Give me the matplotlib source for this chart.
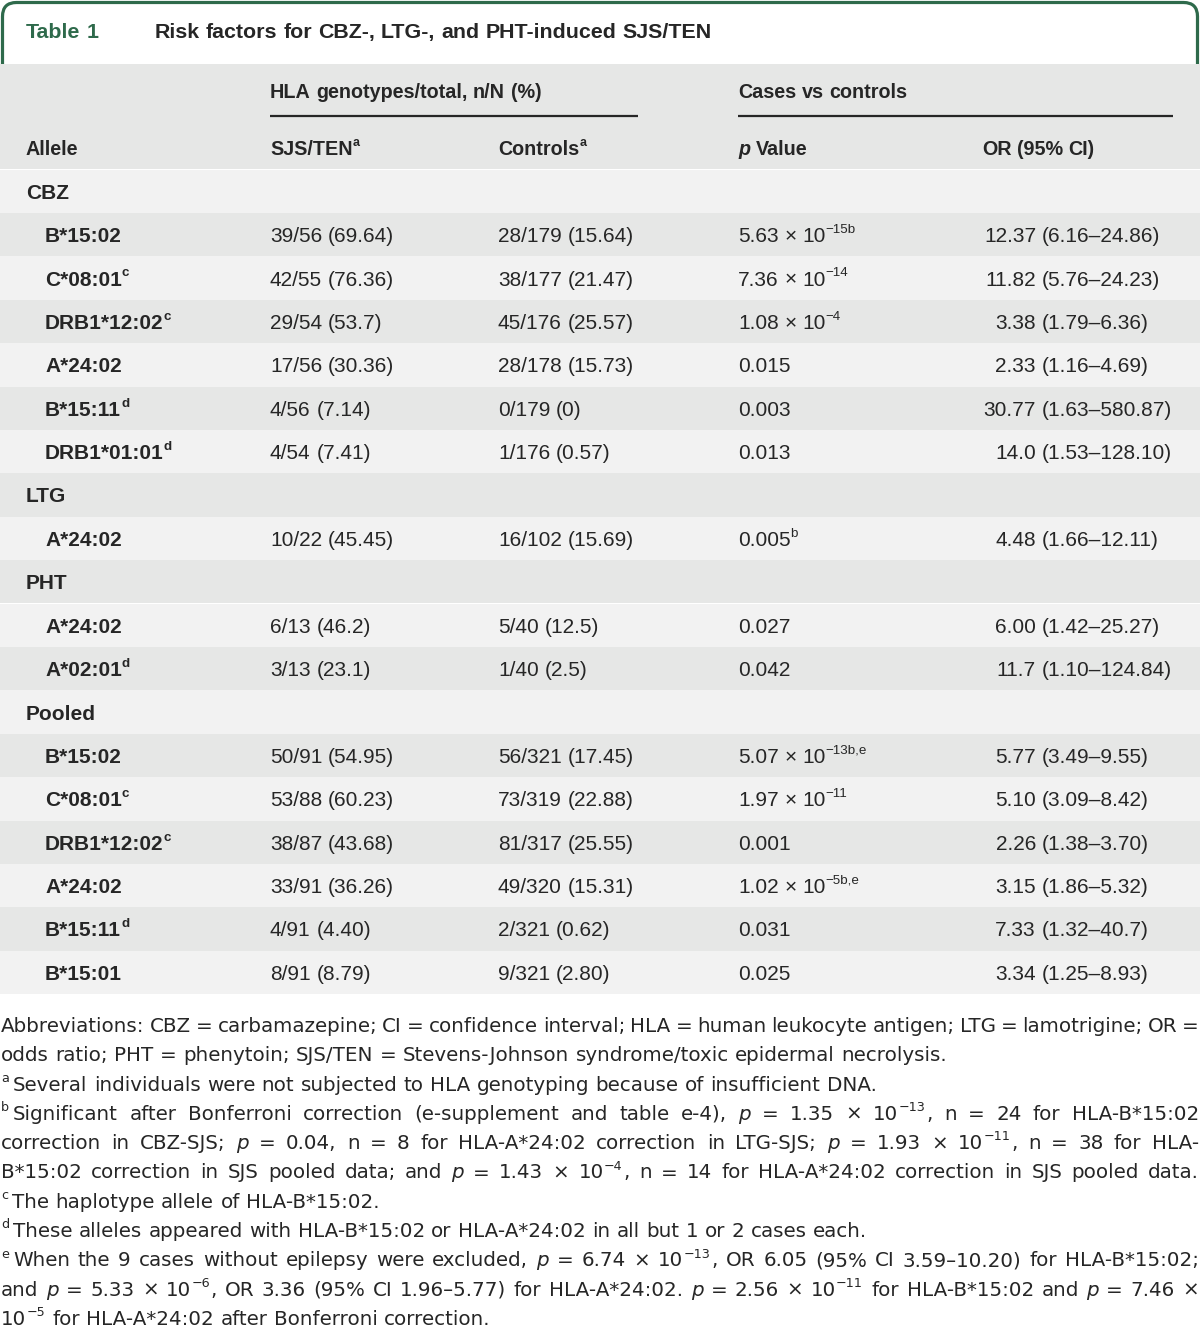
import re
import matplotlib
matplotlib.use("Agg")
import matplotlib.pyplot as plt
from matplotlib.patches import Rectangle, FancyBboxPatch

FONT = "Liberation Sans"
NOTE_FONT = "DejaVu Sans"
INK = "#262626"
GREEN = "#2e6a4b"
DARK = "#e6e7e6"
LIGHT = "#f2f2f2"

# ---- table data ----
labels = ["CBZ", "B*15:02", "C*08:01{s:c}", "DRB1*12:02{s:c}", "A*24:02",
          "B*15:11{s:d}", "DRB1*01:01{s:d}",
          "LTG", "A*24:02",
          "PHT", "A*24:02", "A*02:01{s:d}",
          "Pooled", "B*15:02", "C*08:01{s:c}", "DRB1*12:02{s:c}", "A*24:02",
          "B*15:11{s:d}", "B*15:01"]
sections = ["CBZ", "LTG", "PHT", "Pooled"]
sjs_ten = ["", "39/56 (69.64)", "42/55 (76.36)", "29/54 (53.7)", "17/56 (30.36)",
           "4/56 (7.14)", "4/54 (7.41)",
           "", "10/22 (45.45)",
           "", "6/13 (46.2)", "3/13 (23.1)",
           "", "50/91 (54.95)", "53/88 (60.23)", "38/87 (43.68)", "33/91 (36.26)",
           "4/91 (4.40)", "8/91 (8.79)"]
controls = ["", "28/179 (15.64)", "38/177 (21.47)", "45/176 (25.57)", "28/178 (15.73)",
            "0/179 (0)", "1/176 (0.57)",
            "", "16/102 (15.69)",
            "", "5/40 (12.5)", "1/40 (2.5)",
            "", "56/321 (17.45)", "73/319 (22.88)", "81/317 (25.55)", "49/320 (15.31)",
            "2/321 (0.62)", "9/321 (2.80)"]
p_values = ["", "5.63 × 10{s:−15b}", "7.36 × 10{s:−14}", "1.08 × 10{s:−4}", "0.015",
            "0.003", "0.013",
            "", "0.005{s:b}",
            "", "0.027", "0.042",
            "", "5.07 × 10{s:−13b,e}", "1.97 × 10{s:−11}", "0.001", "1.02 × 10{s:−5b,e}",
            "0.031", "0.025"]
or_est = ["", "12.37", "11.82", "3.38", "2.33", "30.77", "14.0",
          "", "4.48",
          "", "6.00", "11.7",
          "", "5.77", "5.10", "2.26", "3.15", "7.33", "3.34"]
or_ci = ["", "(6.16–24.86)", "(5.76–24.23)", "(1.79–6.36)", "(1.16–4.69)",
         "(1.63–580.87)", "(1.53–128.10)",
         "", "(1.66–12.11)",
         "", "(1.42–25.27)", "(1.10–124.84)",
         "", "(3.49–9.55)", "(3.09–8.42)", "(1.38–3.70)", "(1.86–5.32)",
         "(1.32–40.7)", "(1.25–8.93)"]

title_num = "Table 1"
title = "Risk factors for CBZ-, LTG-, and PHT-induced SJS/TEN"
group_heads = ["HLA genotypes/total, n/N (%)", "Cases vs controls"]
col_heads = ["Allele", "SJS/TEN{s:a}", "Controls{s:a}", "{i:p} Value", "OR (95% CI)"]

# footnote lines: (text, justified)
notes = [
    ("Abbreviations: CBZ = carbamazepine; CI = confidence interval; HLA = human leukocyte antigen; LTG = lamotrigine; OR =", True),
    ("odds ratio; PHT = phenytoin; SJS/TEN = Stevens-Johnson syndrome/toxic epidermal necrolysis.", False),
    ("{m:a}Several individuals were not subjected to HLA genotyping because of insufficient DNA.", False),
    ("{m:b}Significant after Bonferroni correction (e-supplement and table e-4), {i:p} = 1.35 × 10{s:−13}, n = 24 for HLA-B*15:02", True),
    ("correction in CBZ-SJS; {i:p} = 0.04, n = 8 for HLA-A*24:02 correction in LTG-SJS; {i:p} = 1.93 × 10{s:−11}, n = 38 for HLA-", True),
    ("B*15:02 correction in SJS pooled data; and {i:p} = 1.43 × 10{s:−4}, n = 14 for HLA-A*24:02 correction in SJS pooled data.", True),
    ("{m:c}The haplotype allele of HLA-B*15:02.", False),
    ("{m:d}These alleles appeared with HLA-B*15:02 or HLA-A*24:02 in all but 1 or 2 cases each.", False),
    ("{m:e}When the 9 cases without epilepsy were excluded, {i:p} = 6.74 × 10{s:−13}, OR 6.05 (95% CI 3.59–10.20) for HLA-B*15:02;", True),
    ("and {i:p} = 5.33 × 10{s:−6}, OR 3.36 (95% CI 1.96–5.77) for HLA-A*24:02. {i:p} = 2.56 × 10{s:−11} for HLA-B*15:02 and {i:p} = 7.46 ×", True),
    ("10{s:−5} for HLA-A*24:02 after Bonferroni correction.", False),
]

W, H = 1200, 1328
fig = plt.figure(figsize=(W / 100, H / 100), dpi=100)
ax = fig.add_axes([0, 0, 1, 1])
ax.set_xlim(0, W)
ax.set_ylim(H, 0)
ax.axis("off")
R = fig.canvas.get_renderer()


def parse(s):
    runs, pos = [], 0
    for m in re.finditer(r"\{([sim]):([^}]*)\}", s):
        if m.start() > pos:
            runs.append((s[pos:m.start()], "n"))
        runs.append((m.group(2), m.group(1)))
        pos = m.end()
    if pos < len(s):
        runs.append((s[pos:], "n"))
    return runs


_space = {}


def space_w(size, weight, fam):
    key = (size, weight, fam)
    if key not in _space:
        a = ax.text(0, 0, "x x", fontsize=size, fontweight=weight, family=fam)
        b = ax.text(0, 0, "xx", fontsize=size, fontweight=weight, family=fam)
        _space[key] = a.get_window_extent(R).width - b.get_window_extent(R).width
        a.remove()
        b.remove()
    return _space[key]


def put(x, y, s, size, weight="normal", color=INK, draw=True, fam=FONT):
    x0 = x
    for txt, kind in parse(s):
        sup = kind in ("s", "m")
        fs = size * 0.64 if sup else size
        dy = -size * 0.44 * 100 / 72 if sup else 0
        style = "italic" if kind == "i" else "normal"
        for k, piece in enumerate(txt.split(" ")):
            if k > 0:
                x += space_w(fs, weight, fam)
            if not piece:
                continue
            t = ax.text(x, y + dy, piece, fontsize=fs, fontweight=weight,
                        fontstyle=style, family=fam, color=color,
                        va="baseline", ha="left")
            w = t.get_window_extent(R).width
            if not draw:
                t.remove()
            x += w
        if kind == "s":
            x += 1
        if kind == "m":
            x += 4
    return x - x0


# ---- title box ----
ax.add_patch(FancyBboxPatch((2.5, 2.5), W - 5, 160,
                            boxstyle="round,pad=0,rounding_size=14",
                            ec=GREEN, fc="white", lw=2.3, zorder=1))
put(26, 38, title_num, 15.4, weight="bold", color=GREEN)
put(155, 38, title, 15.4, weight="bold", color=INK)

# ---- header block ----
ax.add_patch(Rectangle((0, 64), W, 105, fc=DARK, ec="none", zorder=2))
put(270, 98, group_heads[0], 14.2, weight="bold")
put(738, 98, group_heads[1], 14.2, weight="bold")
ax.plot([270, 638], [116, 116], color=INK, lw=1.6, zorder=3, solid_capstyle="butt")
ax.plot([738, 1173], [116, 116], color=INK, lw=1.6, zorder=3, solid_capstyle="butt")
head_x = [26, 270, 498, 738, 982]
for hx, h in zip(head_x, col_heads):
    put(hx, 155, h, 14.2, weight="bold")

# ---- body rows ----
top, rh = 169.5, 43.4
size = 15
or_right = 1036
for i, lab in enumerate(labels):
    y0 = top + i * rh
    ax.add_patch(Rectangle((0, y0), W, rh, fc=LIGHT if i % 2 == 0 else DARK,
                           ec="none", zorder=2))
    yb = y0 + rh / 2 + 7.5
    if lab in sections:
        put(26, yb, lab, size, weight="bold")
        continue
    put(45, yb, lab, size, weight="bold")
    put(270, yb, sjs_ten[i], size)
    put(498, yb, controls[i], size)
    put(738, yb, p_values[i], size)
    w = put(0, yb, or_est[i], size, draw=False)
    put(or_right - w, yb, or_est[i], size)
    put(or_right + 6, yb, or_ci[i], size)

# ---- footnotes ----
fs = 14.35
ny0, nstep = 1032, 29.3
for j, (line, just) in enumerate(notes):
    y = ny0 + j * nstep
    words = line.split(" ")
    if just:
        widths = [put(0, y, wd, fs, draw=False, fam=NOTE_FONT) for wd in words]
        gap = (W - 2 - sum(widths)) / (len(words) - 1)
        x = 1
        for wd, wv in zip(words, widths):
            put(x, y, wd, fs, fam=NOTE_FONT)
            x += wv + gap
    else:
        put(1, y, line, fs, fam=NOTE_FONT)

fig.savefig("out.png", dpi=100, facecolor="white")
